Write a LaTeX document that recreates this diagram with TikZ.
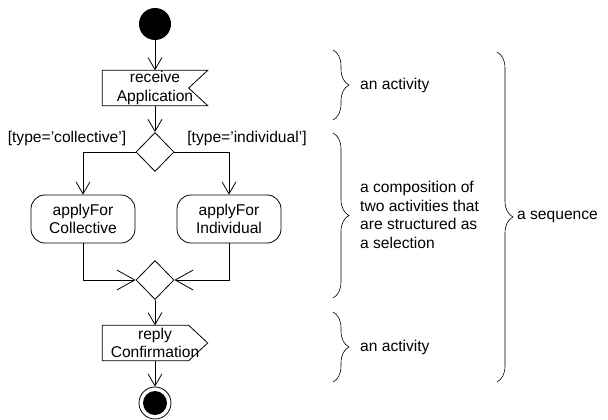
\documentclass[tikz,border=0pt]{standalone}
\usepackage{fontspec}
\setmainfont{Liberation Sans}
\usetikzlibrary{arrows.meta}
\usetikzlibrary{shapes.geometric}
\usetikzlibrary{decorations.pathreplacing}

\tikzset{
  flow/.style={line width=0.8pt, -{Straight Barb[length=12pt,width=14pt]}},
  joinflow/.style={line width=0.8pt, -{Straight Barb[length=18pt,width=20pt]}},
  action/.style={draw, line width=0.8pt, rounded corners=14pt, minimum width=104pt, minimum height=48pt, align=center, inner sep=0pt},
  sigbox/.style={minimum width=105pt, minimum height=35pt, align=center, inner sep=0pt},
  choice/.style={draw, diamond, line width=0.8pt, minimum width=38pt, minimum height=39pt, inner sep=0pt},
  note/.style={align=left, anchor=west, inner sep=0pt},
  curly/.style={decorate, decoration={brace, amplitude=16pt}, line width=0.6pt},
}

\begin{document}
\begin{tikzpicture}[x=1pt, y=-1pt, font=\fontsize{15.6}{18.5}\selectfont]
    \useasboundingbox (0, 0) rectangle (608, 420);
    \node[circle, fill, minimum size=32pt, inner sep=0pt] (start) at (155, 24) {};
    \node[sigbox] (recv) at (155, 88) {receive\\Application};
    \draw[line width=0.8pt] (recv.north west) -- (recv.north east) -- ([xshift=-19pt]recv.east) -- (recv.south east) -- (recv.south west) -- cycle;
    \node[choice] (dec) at (155, 152) {};
    \node (lcoll) at (67, 138) {[type='collective']};
    \node (lindiv) at (247, 138) {[type='individual']};
    \node[action] (coll) at (83, 219) {applyFor\\Collective};
    \node[action] (indiv) at (229, 219) {applyFor\\Individual};
    \node[choice] (merge) at (155, 280) {};
    \node[sigbox] (reply) at (155, 343) {reply\\Confirmation};
    \draw[line width=0.8pt] (reply.north west) -- ([xshift=-19pt]reply.north east) -- (reply.east) -- ([xshift=-19pt]reply.south east) -- (reply.south west) -- cycle;
    \node[circle, draw, line width=0.8pt, minimum size=32pt, inner sep=0pt] (final) at (155, 403) {};
    \fill (final) circle (12pt);

    \draw[flow] (start) -- (recv);
    \draw[flow] (recv) -- (dec);
    \draw[flow] (dec.west) -| (coll.north);
    \draw[flow] (dec.east) -| (indiv.north);
    \draw[joinflow] (coll.south) |- (merge.west);
    \draw[joinflow] (indiv.south) |- (merge.east);
    \draw[flow] (merge) -- (reply);
    \draw[flow] (reply) -- (final);

    % braces on the right
    \coordinate (b1a) at (333, 50);  \coordinate (b1b) at (333, 120);
    \coordinate (b2a) at (333, 133); \coordinate (b2b) at (333, 298);
    \coordinate (b3a) at (333, 312); \coordinate (b3b) at (333, 382);
    \coordinate (b4a) at (497, 52);  \coordinate (b4b) at (497, 382);
    \draw[curly] (b1a) -- (b1b);
    \draw[curly] (b2a) -- (b2b);
    \draw[curly] (b3a) -- (b3b);
    \draw[curly] (b4a) -- (b4b);
    \node[note] (act1) at (360, 85) {an activity};
    \node[note] (comp) at (360, 215) {a composition of\\two activities that\\are structured as\\a selection};
    \node[note] (act2) at (360, 347) {an activity};
    \node[note] (seq) at (517, 217) {a sequence};
\end{tikzpicture}
\end{document}
